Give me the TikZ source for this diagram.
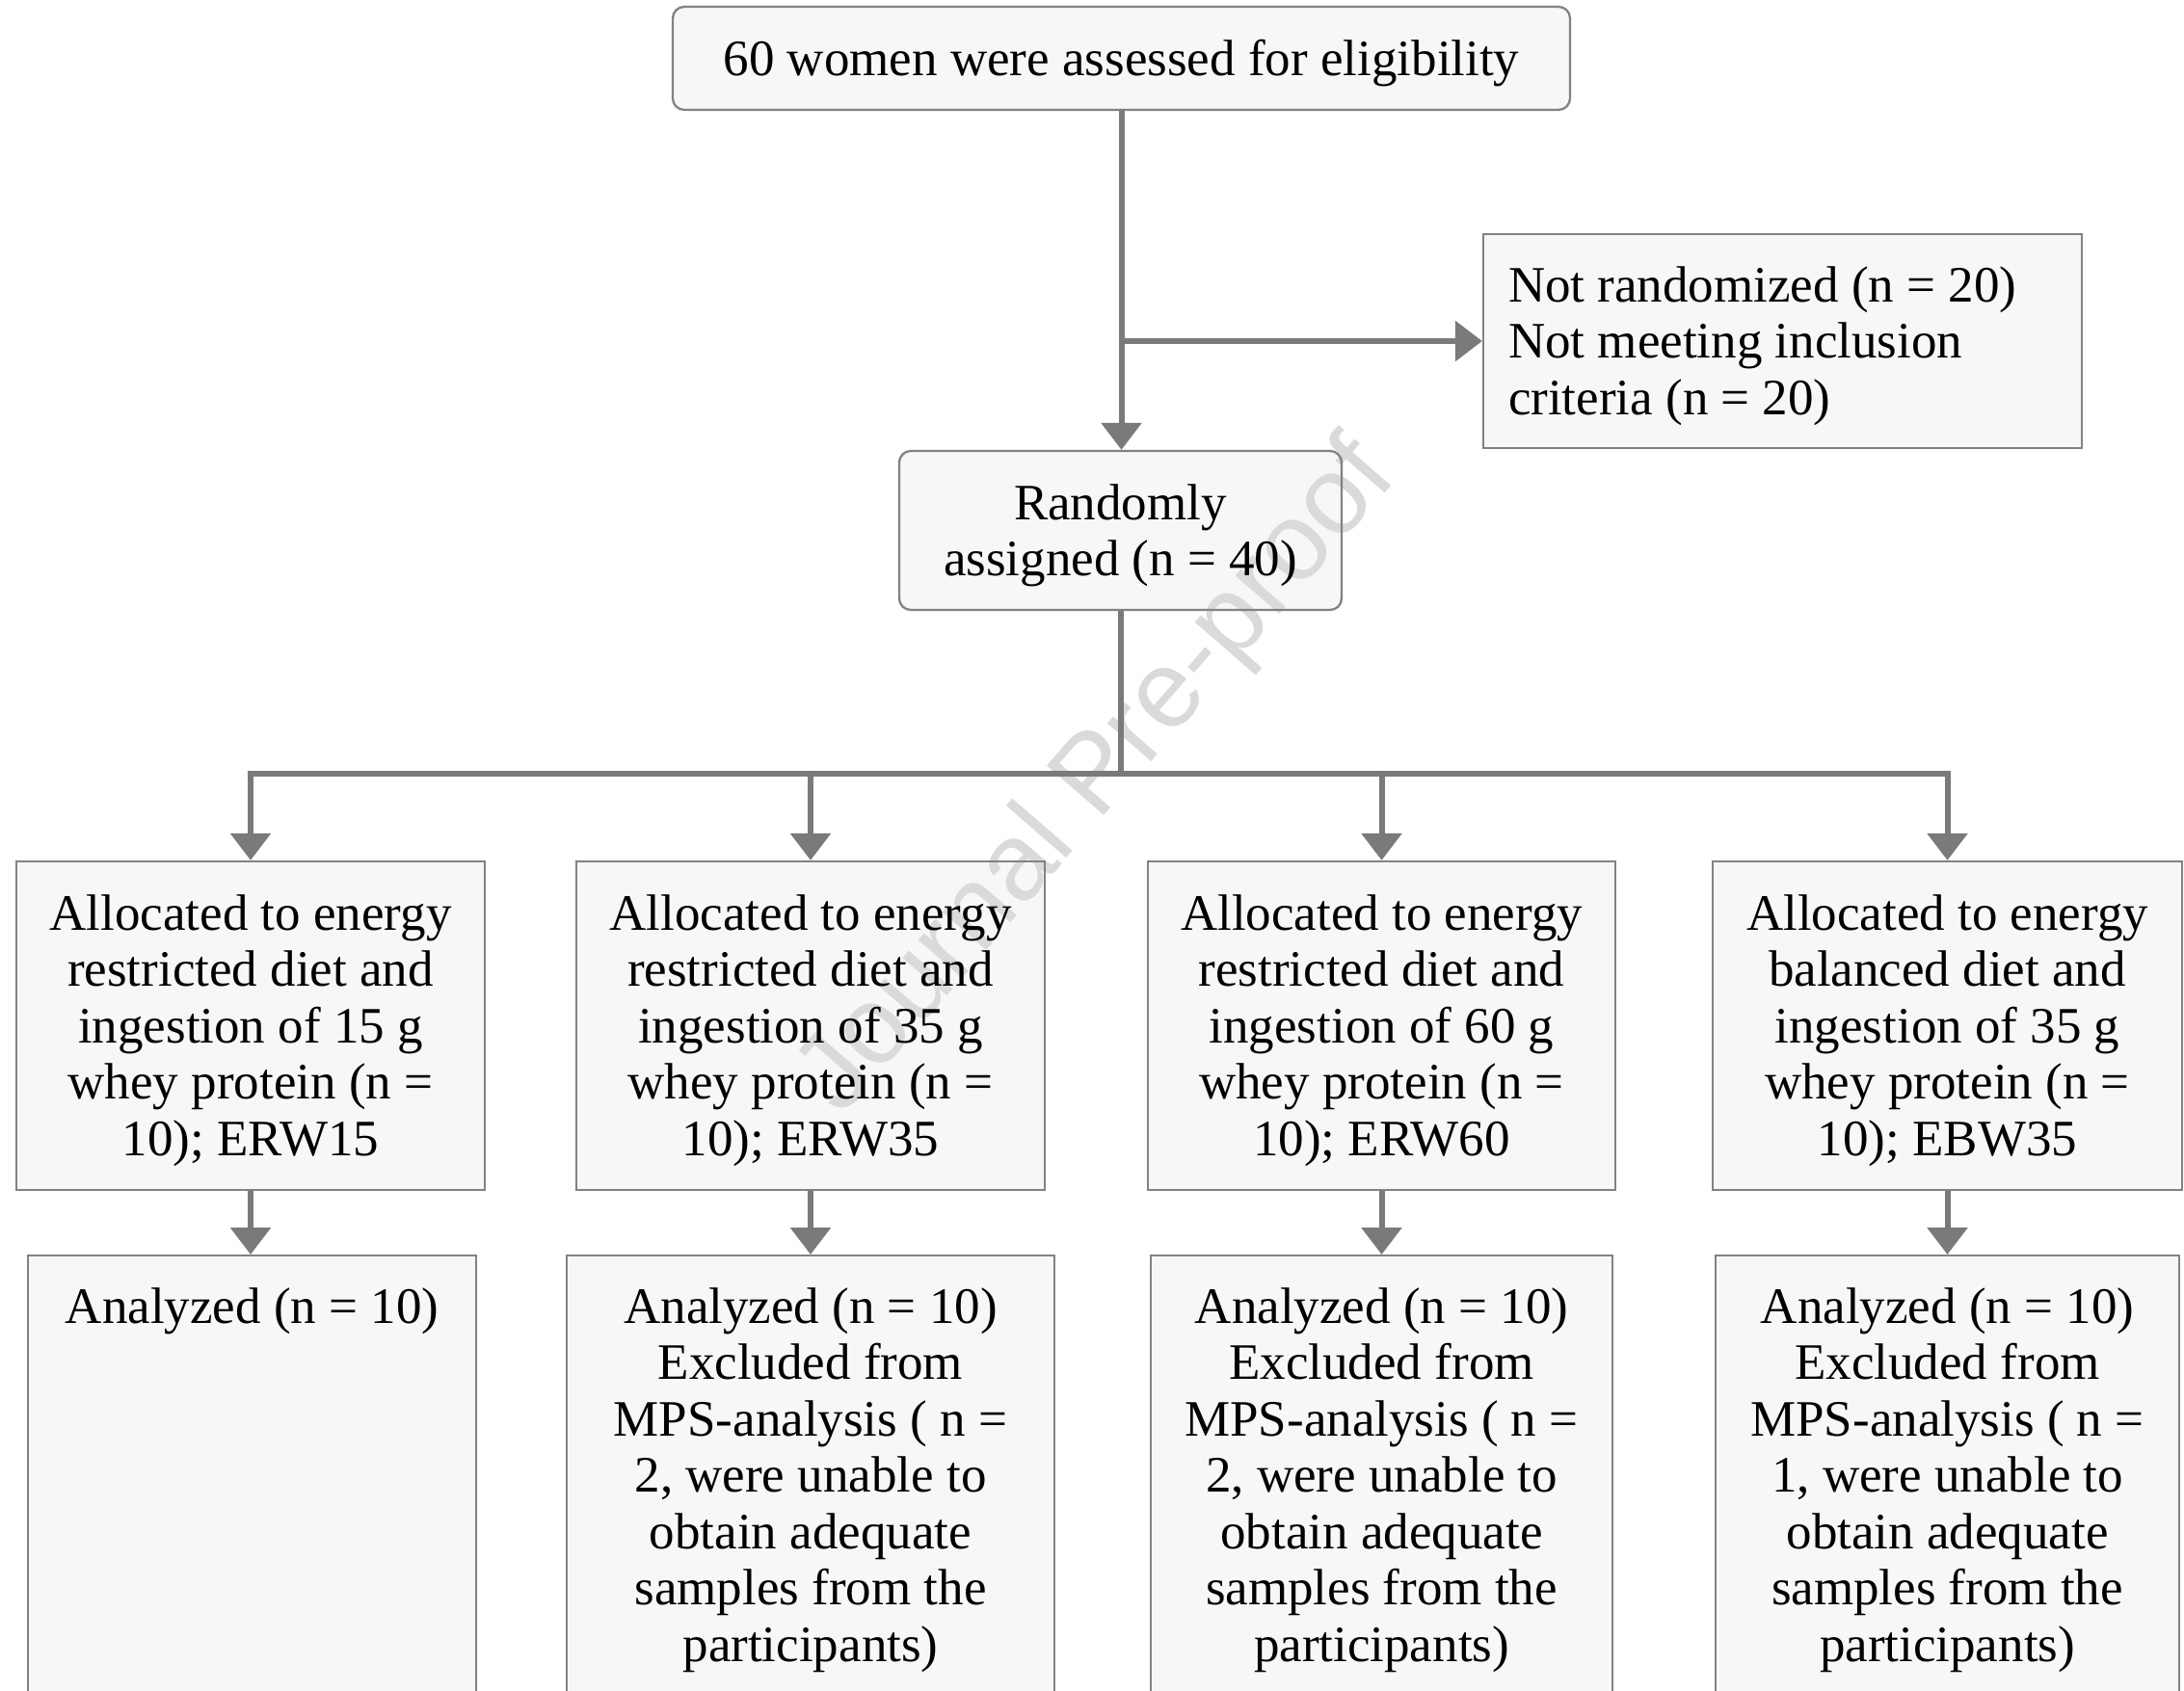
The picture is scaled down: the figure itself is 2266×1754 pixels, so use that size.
\documentclass[tikz,border=0pt]{standalone}
\usepackage{fontspec}
\setmainfont{Liberation Serif}
\newfontfamily\wmfont{Liberation Sans}
\usetikzlibrary{arrows.meta,backgrounds}
\definecolor{linegray}{RGB}{122,122,122}
\definecolor{boxgray}{RGB}{130,130,130}
\definecolor{boxfill}{RGB}{247,247,247}
\definecolor{wmgray}{RGB}{218,218,218}
\newcommand{\myts}{\rule{0pt}{47pt}}
\begin{document}
\begin{tikzpicture}[x=1pt,y=-1pt,
  box/.style={draw=boxgray, line width=2.3pt, inner sep=0pt,
    font=\fontsize{53}{58.5}\selectfont, align=center},
  rbox/.style={box, rounded corners=12pt},
  anbox/.style={box, anchor=north, inner ysep=29pt},
  conn/.style={draw=linegray, line width=6pt},
  arr/.style={conn, -{Triangle[width=41pt,length=28pt]}}]
\useasboundingbox (0,0) rectangle (2266,1754);

% boxes
\node[rbox, minimum width=931pt, minimum height=107pt] (top) at (1163.5,60.5)
  {\myts 60 women were assessed for eligibility};
\node[box, minimum width=621pt, minimum height=222pt, text width=569pt, align=flush left] (nr) at (1849.5,354)
  {\myts Not randomized (n = 20)\\Not meeting inclusion\\criteria (n = 20)};
\node[rbox, minimum width=459pt, minimum height=165pt] (rand) at (1162.5,550.5)
  {\myts Randomly\\assigned (n = 40)};

\node[box, minimum width=486pt, minimum height=341pt] (al1) at (260,1064.5)
  {\myts Allocated to energy\\restricted diet and\\ingestion of 15 g\\whey protein (n =\\10); ERW15};
\node[box, minimum width=486pt, minimum height=341pt] (al2) at (841,1064.5)
  {\myts Allocated to energy\\restricted diet and\\ingestion of 35 g\\whey protein (n =\\10); ERW35};
\node[box, minimum width=485pt, minimum height=341pt] (al3) at (1433.5,1064.5)
  {\myts Allocated to energy\\restricted diet and\\ingestion of 60 g\\whey protein (n =\\10); ERW60};
\node[box, minimum width=487pt, minimum height=341pt] (al4) at (2020.5,1064.5)
  {\myts Allocated to energy\\balanced diet and\\ingestion of 35 g\\whey protein (n =\\10); EBW35};

\node[anbox, minimum width=465pt] (an1) at (261.5,1302)
  {\begin{minipage}[t][430pt][t]{440pt}\centering\strut Analyzed (n = 10)\end{minipage}};
\node[anbox, minimum width=506pt] (an2) at (841,1302)
  {\begin{minipage}[t][430pt][t]{480pt}\centering\strut Analyzed (n = 10)\\
   Excluded from\\MPS-analysis ( n =\\2, were unable to\\obtain adequate\\samples from the\\participants)\end{minipage}};
\node[anbox, minimum width=479pt] (an3) at (1433.5,1302)
  {\begin{minipage}[t][430pt][t]{460pt}\centering\strut Analyzed (n = 10)\\
   Excluded from\\MPS-analysis ( n =\\2, were unable to\\obtain adequate\\samples from the\\participants)\end{minipage}};
\node[anbox, minimum width=481pt] (an4) at (2020.5,1302)
  {\begin{minipage}[t][430pt][t]{460pt}\centering\strut Analyzed (n = 10)\\
   Excluded from\\MPS-analysis ( n =\\1, were unable to\\obtain adequate\\samples from the\\participants)\end{minipage}};

% connectors
\draw[arr] (top.south) -- (top.south |- rand.north);
\coordinate (sb) at (top.south |- nr.west);
\draw[arr] (sb) -- (nr.west);
\coordinate (hb) at (rand.south |- 0,803);
\draw[conn] (rand.south) -- (hb);
\foreach \n in {al1,al2,al3,al4}{
  \draw[arr] (hb) -| (\n.north);
}
\foreach \a/\b in {al1/an1,al2/an2,al3/an3,al4/an4}{
  \draw[arr] (\a.south) -- (\a.south |- \b.north);
}

% fills and watermark behind
\begin{scope}[on background layer]
  \foreach \n in {nr,al1,al2,al3,al4,an1,an2,an3,an4}{
    \fill[boxfill] (\n.south west) rectangle (\n.north east);
  }
  \foreach \n in {top,rand}{
    \fill[boxfill, rounded corners=12pt] (\n.south west) rectangle (\n.north east);
  }
  \node[font=\wmfont\fontsize{114}{118}\selectfont, text=wmgray, rotate=49] (wm) at (1140,808) {Journal Pre-proof};
\end{scope}
\end{tikzpicture}
\end{document}
